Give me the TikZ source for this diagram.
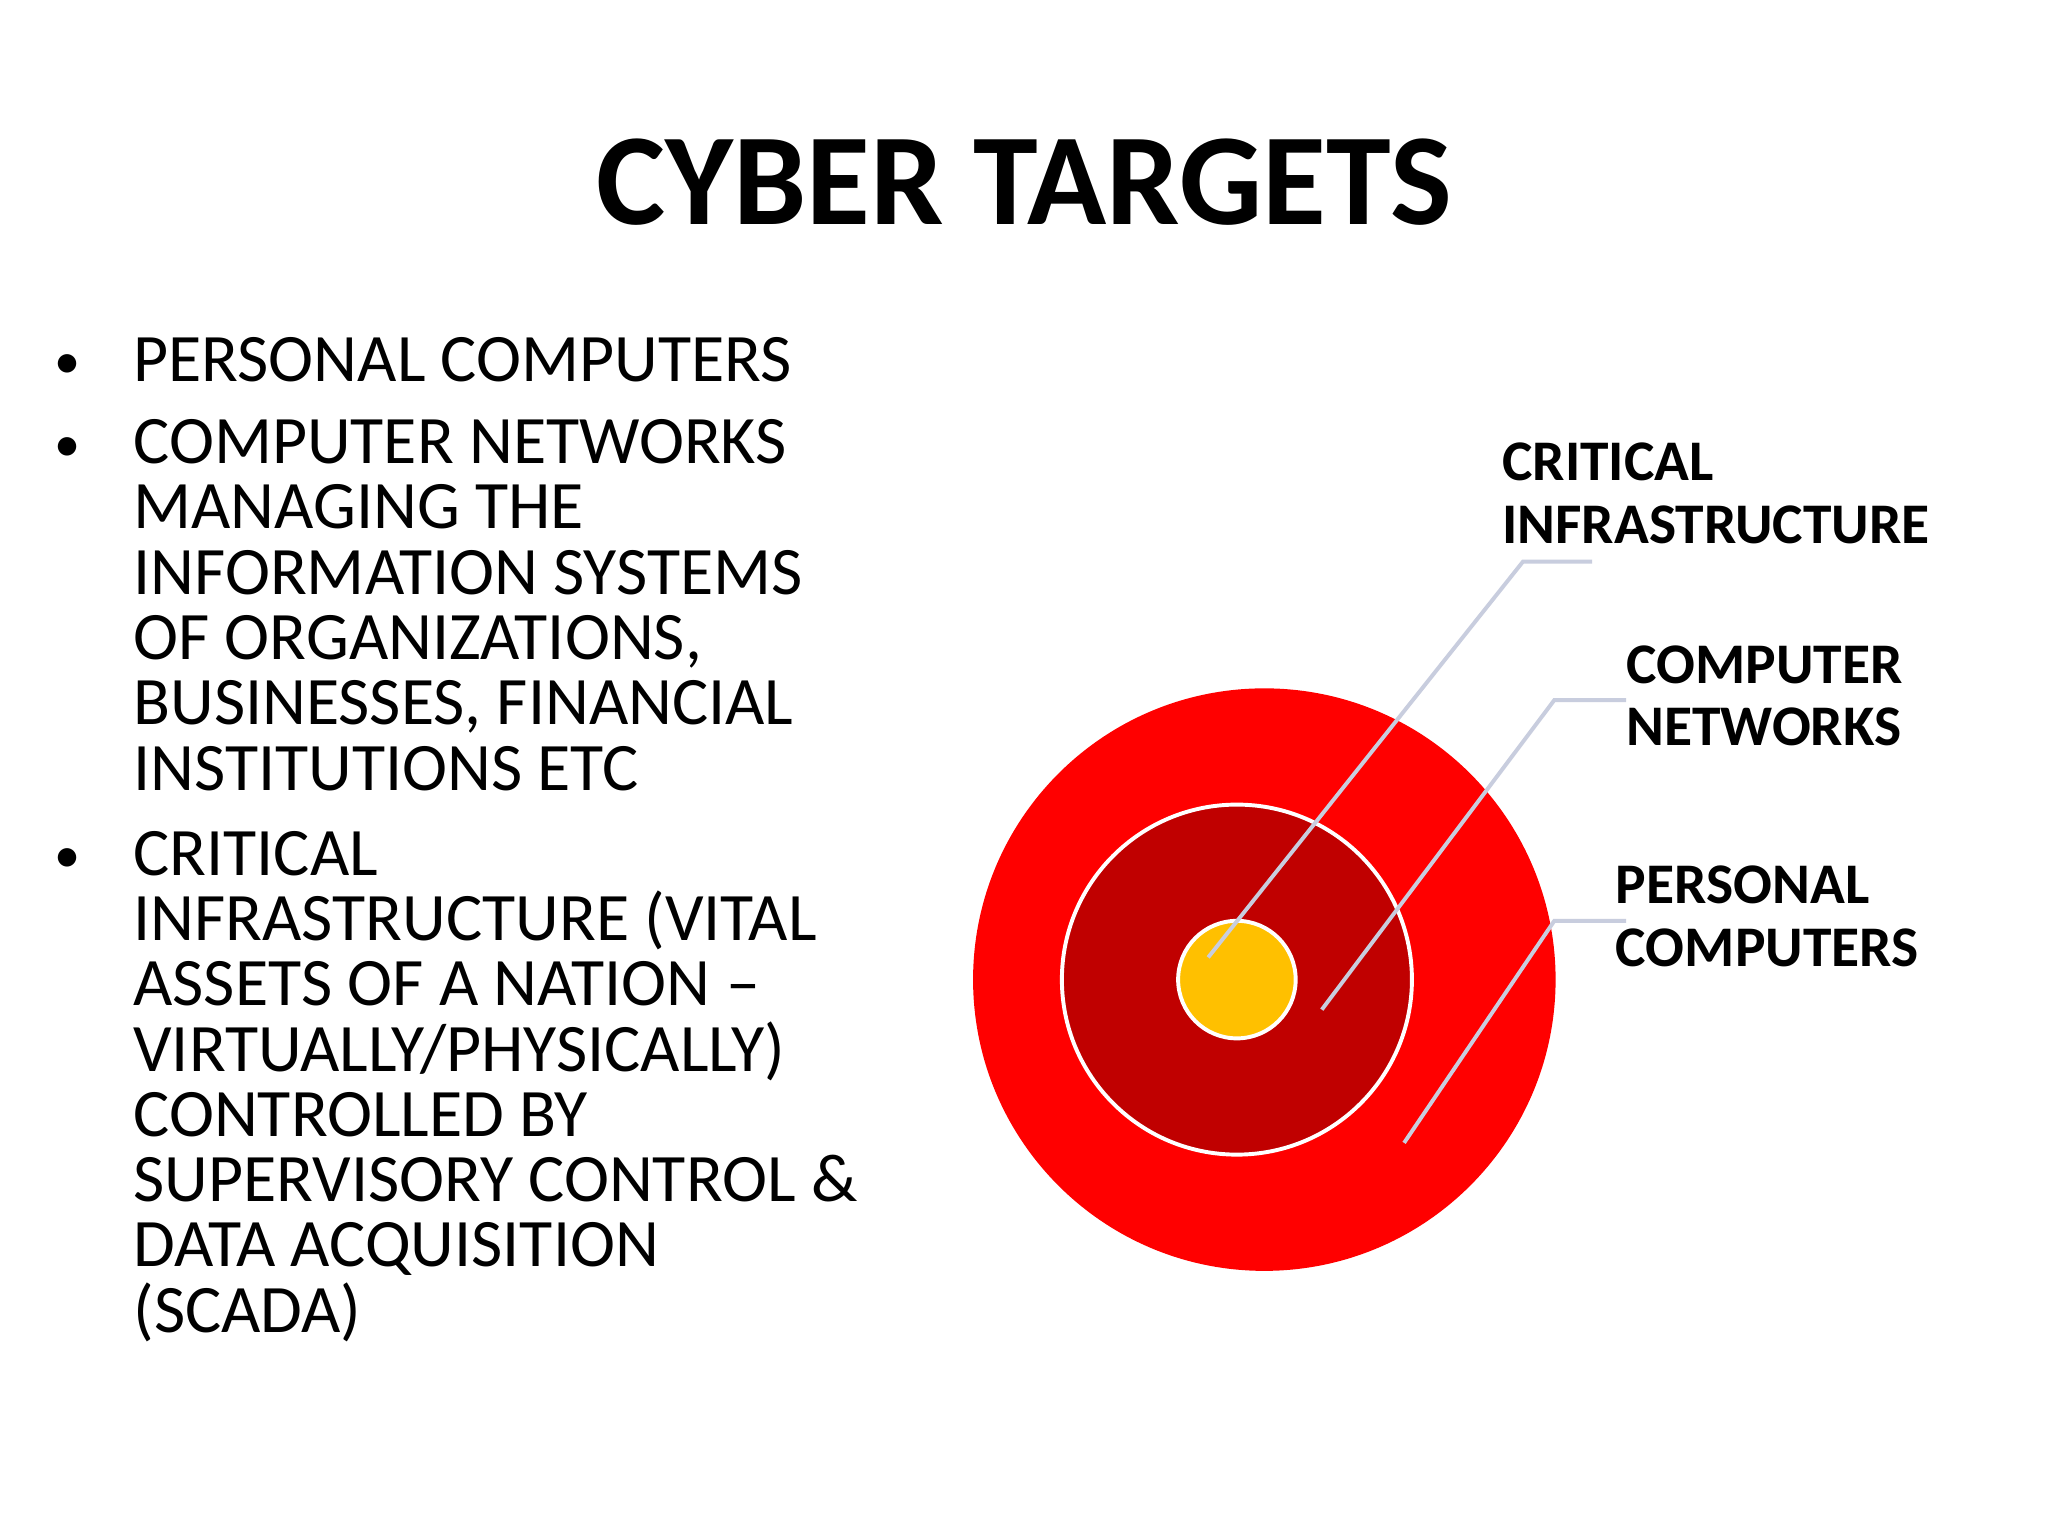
\documentclass[tikz,border=0pt]{standalone}
\usepackage{fontspec}
\setmainfont{Carlito}
\definecolor{leadc}{RGB}{200,205,222}
\definecolor{darkr}{RGB}{192,0,0}
\definecolor{gold}{RGB}{255,192,0}
\begin{document}
\begin{tikzpicture}[x=1pt,y=-1pt,
  body/.style={anchor=base west,inner sep=0pt,font=\fontsize{52}{50}\selectfont},
  lab/.style={anchor=base west,inner sep=0pt,align=left,font=\bfseries\fontsize{44}{48}\selectfont},
  leader/.style={draw=leadc,line width=3pt}]
\useasboundingbox (0,0) rectangle (1568,1176);
\fill[white] (0,0) rectangle (1568,1176);
\node[anchor=base,inner sep=0pt,font=\bfseries\fontsize{100}{110}\selectfont] (title) at (784,172) {CYBER TARGETS};
% bullets
\foreach \y in {290,353,668} {\node[anchor=base,inner sep=0pt,font=\fontsize{40}{40}\selectfont] at (52,\y) {•};}
\node[body] (b1) at (102,292) {PERSONAL COMPUTERS};
\node[body] (b2a) at (102,355) {COMPUTER NETWORKS};
\node[body] (b2b) at (102,405) {MANAGING THE};
\node[body] (b2c) at (102,455) {INFORMATION SYSTEMS};
\node[body] (b2d) at (102,505) {OF ORGANIZATIONS,};
\node[body] (b2e) at (102,555) {BUSINESSES, FINANCIAL};
\node[body] (b2f) at (102,605) {INSTITUTIONS ETC};
\node[body] (b3a) at (102,670) {CRITICAL};
\node[body] (b3b) at (102,720) {INFRASTRUCTURE (VITAL};
\node[body] (b3c) at (102,770) {ASSETS OF A NATION –};
\node[body] (b3d) at (102,820) {VIRTUALLY/PHYSICALLY)};
\node[body] (b3e) at (102,870) {CONTROLLED BY};
\node[body] (b3f) at (102,920) {SUPERVISORY CONTROL \&};
\node[body] (b3g) at (102,970) {DATA ACQUISITION};
\node[body] (b3h) at (102,1020) {(SCADA)};
% target
\fill[red] (968,750) circle (223);
\filldraw[fill=darkr,draw=white,line width=3pt] (947,750) circle (134);
\filldraw[fill=gold,draw=white,line width=3pt] (947,750) circle (45);
% leaders
\coordinate (p1) at (925,733); \coordinate (k1) at (1166,430); \coordinate (e1) at (1219,430);
\coordinate (p2) at (1012,773); \coordinate (k2) at (1190,536); \coordinate (e2) at (1245,536);
\coordinate (p3) at (1075,875); \coordinate (k3) at (1190,705); \coordinate (e3) at (1245,705);
\draw[leader] (p1) -- (k1) -- (e1);
\draw[leader] (p2) -- (k2) -- (e2);
\draw[leader] (p3) -- (k3) -- (e3);
\node[lab] (l1) at (1150,416) {CRITICAL\\INFRASTRUCTURE};
\node[lab] (l2) at (1245,571) {COMPUTER\\NETWORKS};
\node[lab] (l3) at (1237,740) {PERSONAL\\COMPUTERS};
\end{tikzpicture}
\end{document}
